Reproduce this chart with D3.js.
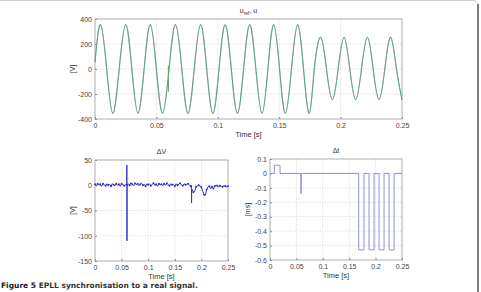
<!DOCTYPE html>
<html>
<head>
<meta charset="utf-8">
<script src="https://cdn.jsdelivr.net/npm/d3@7"></script>
<style>
  body { margin: 0; background: #fff; }
  svg { display: block; font-family: "Liberation Sans", Arial, sans-serif; }
  .tick text { fill: #444; font-size: 7px; }
  .grid line { stroke: #d8d8d8; stroke-dasharray: 1,1.5; }
</style>
</head>
<body>
<svg id="chart" width="481" height="292"></svg>
<script>
// top panel: u_ref, u -- extrema and zero crossings
const uTimes = [0, 0.0045, 0.0095, 0.0145, 0.0197, 0.025, 0.030, 0.035, 0.040, 0.045, 0.050,
  0.055, 0.0603, 0.0655, 0.0707, 0.0757, 0.0808, 0.086, 0.091, 0.096, 0.101, 0.106, 0.111,
  0.116, 0.121, 0.126, 0.131, 0.136, 0.1408, 0.1455, 0.1503, 0.155, 0.160, 0.165, 0.1698,
  0.1745, 0.1786, 0.1838, 0.1885, 0.1933, 0.198, 0.2028, 0.2075, 0.2123, 0.217, 0.2218,
  0.2265, 0.2313, 0.236, 0.2408, 0.2455, 0.25];
const uValues = [55, 355, 0, -355, 0, 355, 0, -355, 0, 355, 0,
  -355, 0, 355, 0, -355, 0, 355, 0, -355, 0, 355, 0,
  -355, 0, 355, 0, -355, 0, 355, 0, -355, 0, 355, 0,
  -355, 0, 254, 0, -244, 0, 254, 0, -244, 0, 254,
  0, -244, 0, 254, 0, -246];
// reference jump at 0.06 s
const uRefGlitch = [[0.0597, 26], [0.0599, -182]];

// bottom left: dV [V], sampled every 2.5 ms
const dvStep = 0.0025;
const dvValues = [2, -1, 3, 0, 2, -2, 3, 1, -1, 3, 0, 2, -2, 3, 1, -1, 3, 0, 2, -2,
  3, 1, -1, 2, 1, 3, 0, 5, 2, -1, 4, 1, 3, -1, 2, 4, 0, 2, -2, 3,
  1, 3, -1, 2, 4, 0, 2, -2, 3, 1, 2, -1, 3, 0, 4, 1, -1, 3, 1, 2,
  -2, 3, 0, 2, 4, 1, -1, 3, 1, 2, 3, 1, -2, -8, -14, -12, -3, -1, 0, -2,
  -4, -12, -19, -20, -8, -3, -2, -7, -3, -8, -2, 0, -1, -3, -1, -2, -3, -1, -2, -3, -2];
const dvSpikes = [[0.0596, 2], [0.0598, 40], [0.0601, -110], [0.0604, 1],
  [0.1812, 0], [0.1815, -35], [0.1818, -10]];

// bottom right: dt [ms], step signal
const dtTimes = [0, 0.0082, 0.019, 0.0585, 0.0590, 0.168, 0.178, 0.1875, 0.197, 0.2065, 0.216, 0.2255, 0.235, 0.25];
const dtValues = [0, 0.057, 0, -0.14, 0, -0.53, 0, -0.53, 0, -0.53, 0, -0.53, 0, 0];

const timeTicks = [0, 0.05, 0.1, 0.15, 0.2, 0.25];
const uTicks = [-400, -200, 0, 200, 400];
const dvTicks = [-150, -100, -50, 0, 50];
const dtTicks = [-0.6, -0.5, -0.4, -0.3, -0.2, -0.1, 0, 0.1];

const svg = d3.select("#chart");

// page frame
svg.append("path")
  .attr("d", "M0,0.5 H474 Q478,0.5 478,4.5")
  .attr("fill", "none").attr("stroke", "#cfcfcf");
svg.append("line")
  .attr("x1", 478).attr("x2", 478).attr("y1", 4).attr("y2", 292)
  .attr("stroke", "#555").attr("stroke-width", 1.5);

function fmt(v) {
  let s = d3.format("~g")(+v.toFixed(3));
  return s.replace("\u2212", "-");
}

function panel(box, yDomain, yTicks, title, yLabel) {
  const x = d3.scaleLinear().domain([0, 0.25]).range([box.x0, box.x1]);
  const y = d3.scaleLinear().domain(yDomain).range([box.y1, box.y0]);
  const g = svg.append("g");

  // grid
  const grid = g.append("g").attr("class", "grid");
  grid.selectAll(".gx").data(timeTicks.slice(1, -1)).join("line")
    .attr("x1", d => x(d)).attr("x2", d => x(d))
    .attr("y1", box.y0).attr("y2", box.y1);
  grid.selectAll(".gy").data(yTicks.slice(1, -1)).join("line")
    .attr("x1", box.x0).attr("x2", box.x1)
    .attr("y1", d => y(d)).attr("y2", d => y(d));

  g.append("g").attr("transform", `translate(0,${box.y1})`)
    .call(d3.axisBottom(x).tickValues(timeTicks).tickFormat(fmt).tickSizeInner(-2).tickSizeOuter(0).tickPadding(4))
    .call(a => a.select(".domain").remove())
    .call(a => a.selectAll(".tick line").attr("stroke", "#888"));
  g.append("g").attr("transform", `translate(${box.x0},0)`)
    .call(d3.axisLeft(y).tickValues(yTicks).tickFormat(fmt).tickSizeInner(-2).tickSizeOuter(0).tickPadding(3))
    .call(a => a.select(".domain").remove())
    .call(a => a.selectAll(".tick line").attr("stroke", "#888"));

  g.append("rect")
    .attr("x", box.x0).attr("y", box.y0)
    .attr("width", box.x1 - box.x0).attr("height", box.y1 - box.y0)
    .attr("fill", "none").attr("stroke", "#9a9a9a").attr("stroke-width", 0.8);

  const cx = (box.x0 + box.x1) / 2;
  g.append("text").attr("x", cx).attr("y", box.y1 + 18)
    .attr("text-anchor", "middle").attr("font-size", 7.5).attr("fill", "#333")
    .text("Time [s]");
  g.append("text")
    .attr("transform", `translate(${box.x0 - 20},${(box.y0 + box.y1) / 2}) rotate(-90)`)
    .attr("text-anchor", "middle").attr("font-size", 7).attr("fill", "#333")
    .text(yLabel);
  const t = g.append("text").attr("x", cx).attr("y", box.y0 - 6)
    .attr("text-anchor", "middle").attr("font-size", 7).attr("fill", "#333");
  if (Array.isArray(title)) {
    t.append("tspan").text(title[0]);
    t.append("tspan").attr("font-size", 5).attr("dy", 2).text(title[1]);
    t.append("tspan").attr("dy", -2).text(title[2]);
  } else {
    t.text(title);
  }
  return { x, y, g };
}

// ---- top: u_ref, u
const topP = panel({ x0: 95, x1: 402, y0: 19, y1: 119 }, [-400, 400], uTicks, ["u", "ref", ", u"], "[V]");
const uPts = uTimes.map((t, i) => [t, uValues[i]]);
const uLine = d3.line().x(d => topP.x(d[0])).y(d => topP.y(d[1])).curve(d3.curveNatural);
topP.g.append("path").attr("d", uLine(uPts))
  .attr("fill", "none").attr("stroke", "#5f8f86").attr("stroke-width", 1.1);
topP.g.append("path").attr("d", uLine(uPts))
  .attr("fill", "none").attr("stroke", "#7ab48a").attr("stroke-width", 0.6).attr("opacity", 0.8);
const glitch = d3.line().x(d => topP.x(d[0])).y(d => topP.y(d[1]));
topP.g.append("path").attr("d", glitch(uRefGlitch))
  .attr("fill", "none").attr("stroke", "#5aa86a").attr("stroke-width", 1);

// ---- bottom left: dV
const bl = panel({ x0: 95, x1: 228, y0: 160, y1: 261 }, [-150, 50], dvTicks, "\u0394V", "[V]");
const dvPts = dvValues.map((v, i) => [i * dvStep, v]).concat(dvSpikes)
  .sort((a, b) => a[0] - b[0]);
bl.g.append("path")
  .attr("d", d3.line().x(d => bl.x(d[0])).y(d => bl.y(d[1]))(dvPts))
  .attr("fill", "none").attr("stroke", "#3434c8").attr("stroke-width", 1);
bl.g.selectAll(".mk").data(dvValues.map((v, i) => [i * dvStep, v]).filter((d, i) => i % 2 === 0))
  .join("circle")
  .attr("cx", d => bl.x(d[0])).attr("cy", d => bl.y(d[1])).attr("r", 0.9)
  .attr("fill", "#2a2ab8");

// ---- bottom right: dt
const br = panel({ x0: 270, x1: 402, y0: 159, y1: 260 }, [-0.6, 0.1], dtTicks, "\u0394t", "[ms]");
const dtPts = dtTimes.map((t, i) => [t, dtValues[i]]);
br.g.append("path")
  .attr("d", d3.line().x(d => br.x(d[0])).y(d => br.y(d[1])).curve(d3.curveStepAfter)(dtPts))
  .attr("fill", "none").attr("stroke", "#8585d6").attr("stroke-width", 0.9);

// caption
const cap = svg.append("text").attr("x", 1).attr("y", 288)
  .attr("font-family", "'DejaVu Sans', sans-serif")
  .attr("font-size", 7.5).attr("fill", "#222");
cap.append("tspan").attr("font-weight", "bold").text("Figure 5 ");
cap.append("tspan").attr("font-weight", "bold").attr("fill", "#333").text("EPLL synchronisation to a real signal.");
</script>
</body>
</html>
